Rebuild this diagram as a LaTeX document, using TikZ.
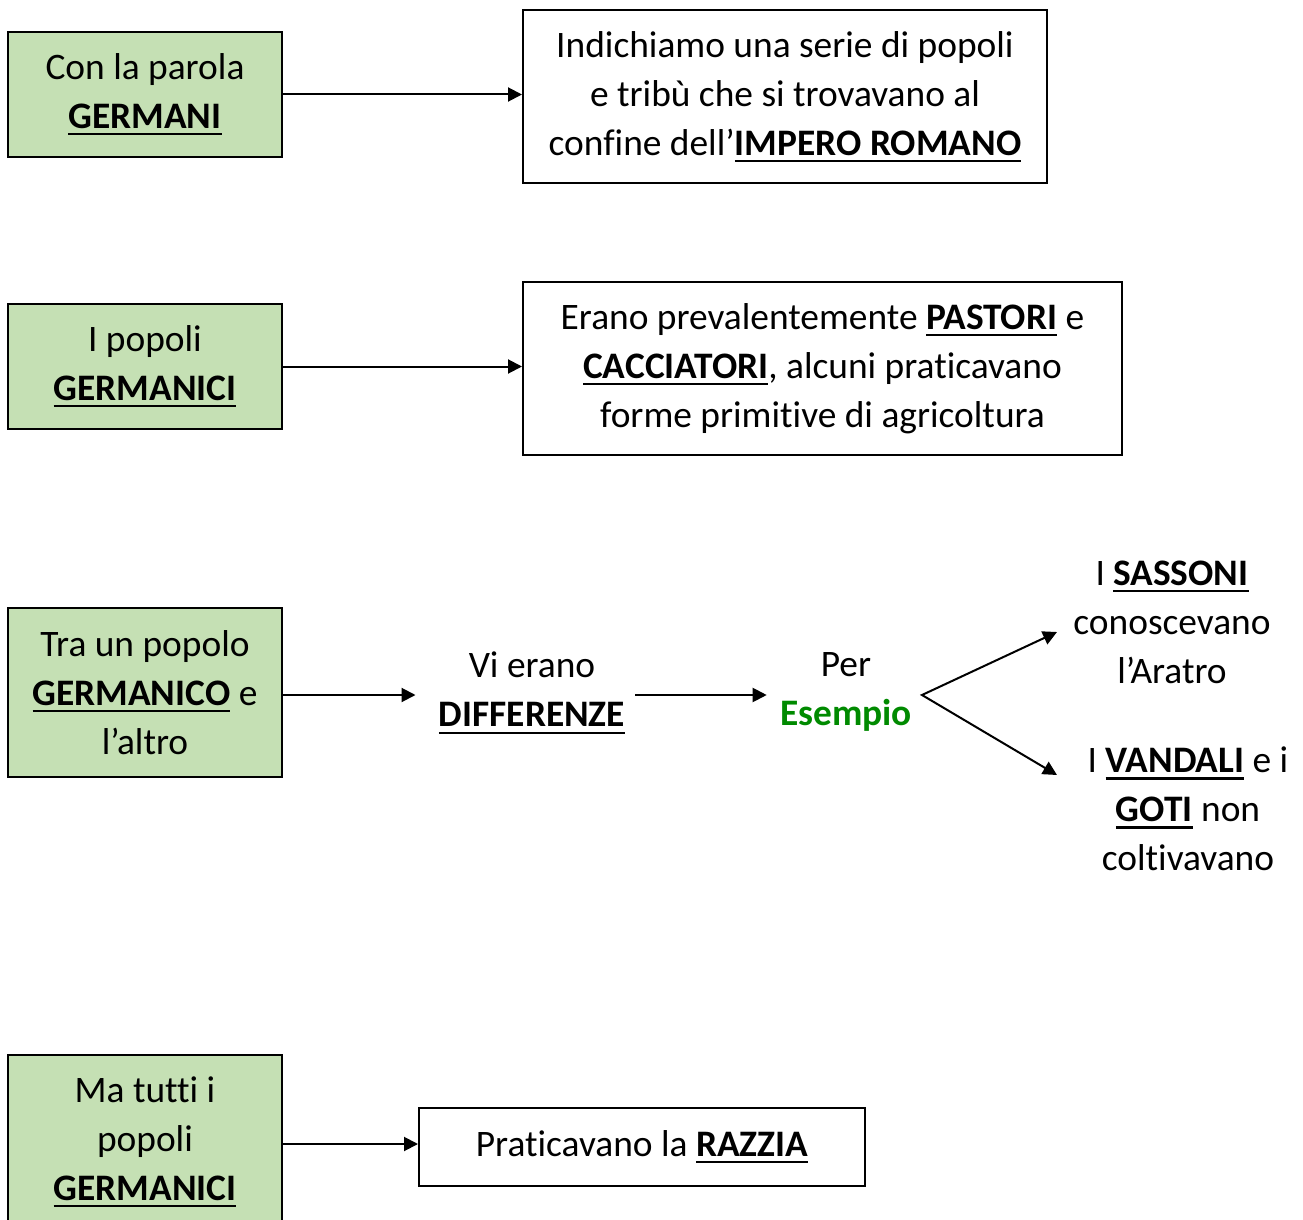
\documentclass[tikz,border=0pt]{standalone}
\usepackage{fontspec}
\setmainfont{Carlito}[Ligatures=NoCommon]
\usetikzlibrary{arrows.meta}
\definecolor{boxgreen}{HTML}{C5E0B4}
\definecolor{txtgreen}{HTML}{008A00}
\newcommand\ubf[1]{{\bfseries\setbox0\hbox{#1}\rlap{\rule[-3.4pt]{\wd0}{1.1pt}}\box0}}
\begin{document}
\begin{tikzpicture}[x=0.5pt,y=-0.5pt,
 font=\fontsize{18.7}{24.5}\selectfont,
 gbox/.style={draw, line width=1pt, fill=boxgreen, minimum width=137pt, align=center, inner sep=0pt},
 wbox/.style={draw, line width=1pt, align=center, inner sep=0pt},
 plain/.style={align=center, inner sep=0pt},
 arr/.style={line width=1pt, -{Triangle[length=7pt,width=7pt]}},
 arrs/.style={line width=1pt, {Triangle[length=7pt,width=7pt]}-{Triangle[length=7pt,width=7pt]}}]
\useasboundingbox (0,0) rectangle (1303,1220);
% row 1
\node[gbox, minimum height=62.5pt] (a1) at (145,94.5) {Con la parola\\\ubf{GERMANI}};
\node[wbox, minimum width=262pt, minimum height=86.5pt] (b1) at (785,96.5) {Indichiamo una serie di popoli\\e tribù che si trovavano al\\confine dell’\ubf{IMPERO ROMANO}};
\draw[arr] (a1.east) -- (a1.east -| b1.west);
% row 2
\node[gbox, minimum height=62.5pt] (a2) at (145,366.5) {I popoli\\\ubf{GERMANICI}};
\node[wbox, minimum width=299.5pt, minimum height=86.5pt] (b2) at (822.5,368.5) {Erano prevalentemente \ubf{PASTORI} e\\\ubf{CACCIATORI}, alcuni praticavano\\forme primitive di agricoltura};
\draw[arr] (a2.east) -- (a2.east -| b2.west);
% row 3
\node[gbox, minimum height=84.5pt] (a3) at (145,692.5) {Tra un popolo\\\ubf{GERMANICO} e\\l’altro};
\node[plain] (diff) at (532,693) {Vi erano\\\ubf{DIFFERENZE}};
\node[plain] (per) at (846,692) {Per\\\textbf{\color{txtgreen}Esempio}};
\node[plain] (sass) at (1172,622) {I \ubf{SASSONI}\\conoscevano\\l’Aratro};
\node[plain] (vand) at (1188,809) {I \ubf{VANDALI} e i\\\ubf{GOTI} non\\coltivavano};
\coordinate (d0) at ([xshift=-11.5pt]diff.west);
\coordinate (d1) at ([xshift=5pt]diff.east);
\coordinate (p0) at ([xshift=-6.5pt]per.west);
\coordinate (v) at (922,695);
\coordinate (e1) at (1057,632);
\coordinate (e2) at (1057,775);
\coordinate (r3) at (a3.east |- v);
\draw[arr] (r3) -- (d0 |- v);
\draw[arr] (d1 |- v) -- (p0 |- v);
\draw[arrs] (e1) -- (v) -- (e2);
% row 4
\node[gbox, minimum height=87pt] (a4) at (145,1142) {Ma tutti i\\popoli\\\ubf{GERMANICI}};
\node[wbox, minimum width=223pt, minimum height=39pt] (b4) at (642,1147) {Praticavano la \ubf{RAZZIA}};
\coordinate (r4) at ([yshift=-1pt]a4.east);
\draw[arr] (r4) -- (r4 -| b4.west);
\end{tikzpicture}
\end{document}
